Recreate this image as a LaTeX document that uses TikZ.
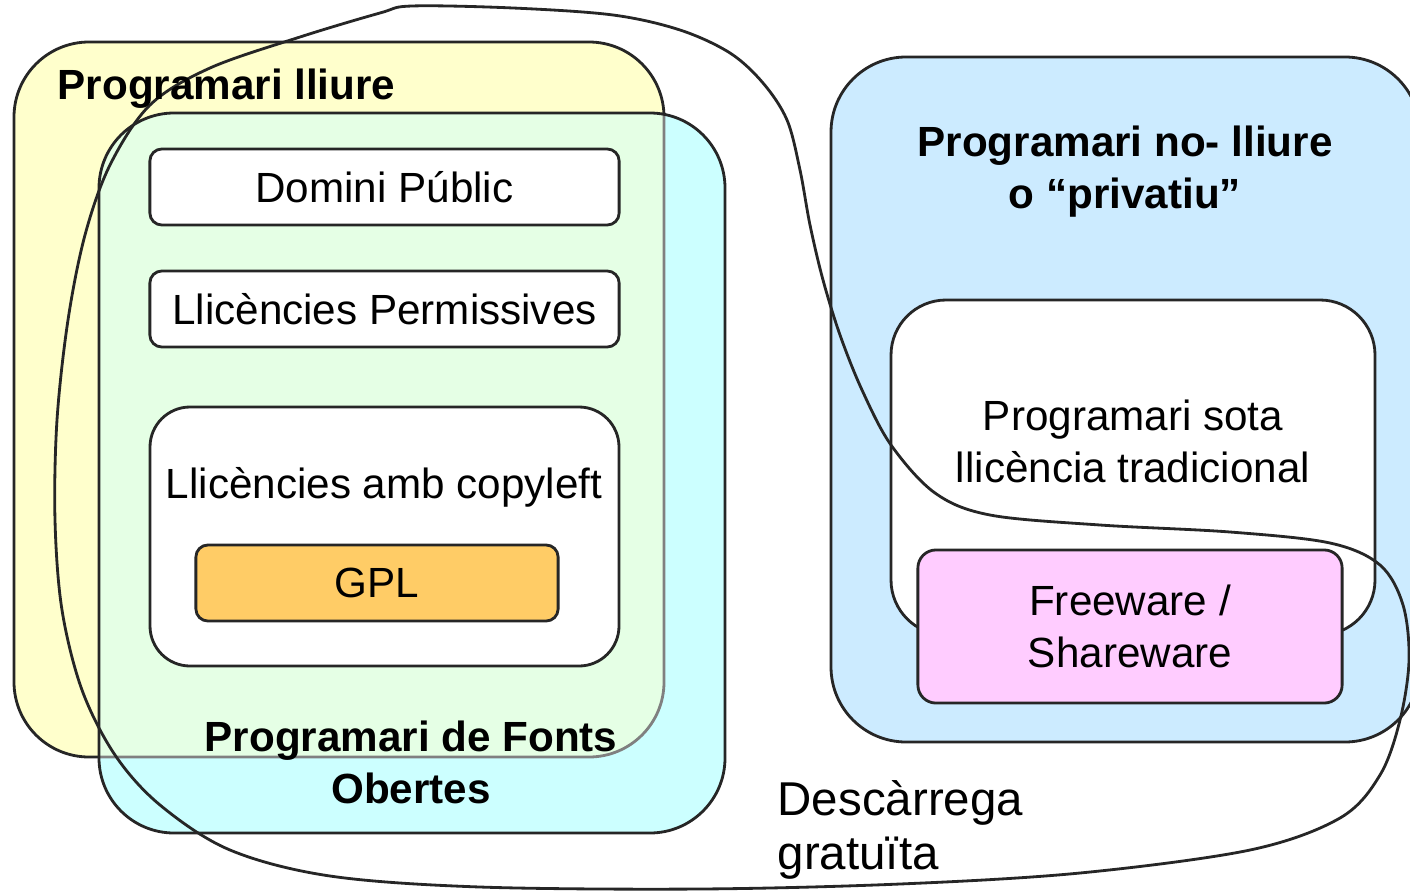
\documentclass[tikz,border=0pt]{standalone}
\usepackage{fontspec}
\setmainfont{Liberation Sans}
\usetikzlibrary{positioning}
\definecolor{lliure}{HTML}{FFFFCC}
\definecolor{fonts}{HTML}{CCFFFF}
\definecolor{mixt}{HTML}{E5FFE5}
\definecolor{privat}{HTML}{CCEBFF}
\definecolor{gpl}{HTML}{FFCC66}
\definecolor{freew}{HTML}{FFCCFF}

\begin{document}
\begin{tikzpicture}[x=0.01cm, y=-0.01cm,
  every node/.style={font=\fontsize{12}{14.8}\selectfont, align=center},
  titol/.style={font=\fontsize{12}{14.8}\selectfont\bfseries},
  vora/.style={draw=black!85, line width=0.8pt},
  llicbox/.style={vora, fill=white, rounded corners=0.12cm, minimum width=4.69cm, minimum height=0.76cm}]
\useasboundingbox (0,0) rectangle (1410,891);
% programari lliure i de fonts obertes
\draw[vora, fill=lliure, rounded corners=0.75cm] (14,42) rectangle (664,757);
\fill[fonts, rounded corners=0.75cm] (99,113) rectangle (725,833);
\begin{scope}
  \clip[rounded corners=0.75cm] (14,42) rectangle (664,757);
  \fill[mixt, rounded corners=0.75cm] (99,113) rectangle (725,833);
\end{scope}
\begin{scope}
  \clip[rounded corners=0.75cm] (99,113) rectangle (725,833);
  \draw[gray, line width=0.8pt, rounded corners=0.75cm] (14,42) rectangle (664,757);
\end{scope}
\draw[vora, rounded corners=0.75cm] (99,113) rectangle (725,833);
\node[llicbox] (domini) at (384.5,187) {Domini Públic};
\node[llicbox] (perm) at (384.5,309) {Llicències Permissives};
\draw[vora, fill=white, rounded corners=0.4cm] (150,407) rectangle (619,666);
\node (copyleft) at (384,487) {Llicències amb copyleft};
\node[llicbox, fill=gpl, minimum width=3.62cm] (gpl) at (377,583) {GPL};
% programari privatiu
\draw[vora, fill=privat, rounded corners=0.75cm] (831,57) rectangle (1420,742);
\draw[vora, fill=white, rounded corners=0.55cm] (891,300) rectangle (1375,635);
\node (trad) at (1133,441) {Programari sota\\llicència tradicional};
\node[vora, fill=freew, rounded corners=0.18cm, minimum width=4.24cm, minimum height=1.53cm] (freeware) at (1130,626.5) {Freeware /\\Shareware};
% descarrega gratuita
\draw[vora] plot[smooth cycle, tension=0.55] coordinates {
  (412,6) (513,8) (613,15) (680,30) (730,53) (763,83) (787,120) (800,170)
  (810,225) (823,280) (840,335) (862,390) (891,445) (935,493) (990,515)
  (1100,525) (1230,532) (1330,543) (1380,565) (1403,605) (1409,660)
  (1400,720) (1380,775) (1340,818) (1250,850) (1080,873) (900,884)
  (700,889) (480,887) (330,876) (230,850) (160,805) (115,755) (82,690)
  (62,610) (55,520) (57,420) (68,320) (85,235) (110,165) (150,105)
  (210,68) (300,37) (380,13)};
% titols
\node[titol, anchor=base west, inner sep=0] (lliure) at (57,100) {Programari lliure};
\node[titol] (obertes) at (411,762) {Programari de Fonts\\Obertes};
\node[titol] (privatiu) at (1125,172) {Programari no- lliure\\o “privatiu”};
\node[anchor=west, inner sep=0, align=left, font=\fontsize{13.5}{15.6}\selectfont] (gratis) at (777,830) {Descàrrega\\gratuïta};
\end{tikzpicture}
\end{document}
